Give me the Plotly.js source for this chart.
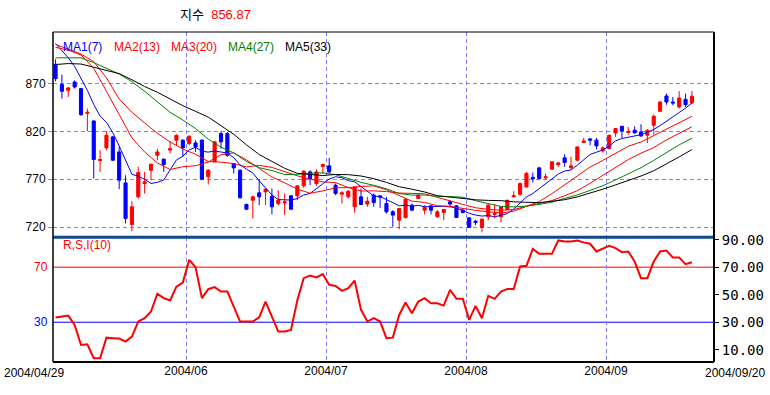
<!DOCTYPE html>
<html><head><meta charset="utf-8">
<script src="https://cdn.plot.ly/plotly-3.0.1.min.js"></script>
<style>html,body{margin:0;padding:0;background:#fff}#chart{width:770px;height:395px}</style>
</head><body><div id="chart"></div>
<script>
// ---- data ----
const openV = [890.2,869,863,871.7,864.8,839,831,789.6,802.8,814.3,
798.6,766.2,722.7,751.6,765.5,779.5,795.1,791,800.5,810.8,
810.8,807.3,808,810.8,772.5,788.2,817.8,817.8,786.4,779.5,
743.6,748.1,755.8,756.8,752.3,744.6,745.3,752.7,752.7,763.1,
777.7,765.5,783.3,784,763.8,754.4,751.6,741.2,751.6,744,
753.4,752.7,744.6,736,727.2,730,742.9,749.9,737.7,742.2,
730.7,735.3,746.4,742.2,737.7,729.7,726.2,719.6,730.7,733.2,
730.7,738.4,751.6,754.4,762,772,781.9,771.5,780.5,785.4,
792.4,782,789.9,808.4,812.2,810.8,799.7,802.1,818.5,825.4,
819,821.3,819.5,816,826.5,841.1,857.1,850.8,845.6,853.6,849.8];
const highV = [895.4,879.4,866.5,873.5,865.5,843.9,831.5,800.4,820.2,815.3,
803.8,774.2,747.1,783,777.7,786.4,802,791.7,810,816.7,
811.9,815.7,810.8,811.9,780.5,809.8,820.2,819.5,786.4,780.2,
744.6,752.3,770,760.3,760.3,758.6,755.1,753.4,763.8,779.5,
779.5,780.5,786.4,792.4,765.5,757.5,758.6,762,760.3,751.6,
755.1,752.7,751.6,737.7,740.1,749.9,744.6,754.1,742.9,742.9,
737.7,738.4,748.1,742.9,739.4,729.7,727.2,729,744.6,744,
741.2,748.1,757.5,766.6,777.7,777,783,776,788.9,788.2,
796.2,793.4,804.5,813.2,813.2,813.2,804.5,816.7,823.7,825.4,
824.7,825.4,827.5,822.3,837.6,851.5,859.6,856.1,862.3,859.6,862.3];
const lowV = [872.4,854.3,856,864.8,836.2,820.2,770.8,777.7,800.4,788.9,
759.6,723.8,715.8,749.9,755,769,790,777.7,797,805.6,
793.4,805.6,798.6,770,764.5,788.2,802,793.4,776,749.9,
737.7,729,742.9,742.9,733.2,742.9,732.5,737.7,748.1,761,
763.8,763.1,776,776,753.4,744.6,749.9,735,742.9,741.2,
741.2,740.1,734.2,720.3,717.8,729,737,749.9,733.2,733.2,
729.7,727.2,741.2,729.7,734.2,719.6,722,714.4,727.2,729,
724.8,738.4,751,752.7,761.3,766.5,769.7,769.7,780.2,783,
783,780.5,789.2,808,805.6,801.4,797.9,801.4,814.3,813.2,
816.7,817.8,814.3,808,816.7,840.4,848,847.4,843.9,845.6,849.1];
const closeV = [875.2,862,865.5,866.5,837.6,840,790.6,790.6,816,789.9,
769,729,741.2,777,767.3,785.7,798.6,785.4,802,816,
802.8,815,803.8,770,779.5,809.1,809.1,795.1,781.9,750.6,
738.7,751.6,751.6,759.6,741.2,748.1,746.4,738.7,763.1,778.4,
770.8,777.7,785.4,777.7,755.1,755.8,757.5,762,743.6,747.1,
745.7,751.3,736,732.5,739.4,749.2,737.7,753.4,740.5,737.7,
736,738.4,744,730,735.3,719.6,724.8,728.3,742.9,734.2,
741.2,748.1,752.7,765.5,776,770.5,770.8,772.5,788.2,787.1,
787.5,784,803.8,810.1,810.8,804.9,802.8,816,823,820.6,
820,818.5,815.3,821.3,835.9,850.8,850.8,849.8,855,848,856.87];

const ma1 = [912,905,897,888,876,863,848.2,836.1,829.5,818.7,
804.8,789.3,775.2,773.2,769.9,765.6,766.8,769.2,779.6,790.3,
794.0,800.8,803.4,799.3,798.4,799.5,798.5,797.4,792.6,785.0,
780.6,776.6,768.4,761.3,753.6,748.8,748.2,748.2,749.8,753.6,
755.2,760.5,765.8,770.3,772.6,771.6,768.6,767.3,762.4,757.0,
752.4,751.9,749.0,745.5,742.2,743.0,741.7,742.8,741.2,741.5,
742.0,741.8,741.1,740.0,737.4,734.4,732.6,731.5,732.1,730.7,
732.3,734.2,738.9,744.7,751.5,755.1,760.3,764.8,770.5,775.4,
778.6,779.7,784.8,790.5,795.9,798.3,800.6,804.6,810.2,812.6,
814.0,815.1,816.6,819.2,822.1,826.1,830.4,834.6,839.8,844.5,849.6];

const maDays = [0,2,4,6,8,10,12,14,16,18,20,22,24,26,28,30,32,34,36,38,40,42,44,46,48,50,
52,54,56,58,60,62,64,66,68,70,72,74,76,78,80,82,84,86,88,90,92,94,96,98,100];
const ma2 = [908,905,900,886,862,838,813.3,798.5,787.1,780.2,783.1,784.1,788.0,795.7,797.6,790.3,
781.4,772.4,766.3,759.7,755.4,757.8,761.1,761.2,762.5,763.1,758.9,753.0,747.1,745.8,742.3,741.7,
739.2,737.4,736.0,734.8,736.6,741.7,746.7,754.9,764.2,772.7,782.8,789.7,797.0,804.5,809.0,815.6,
822.4,829.2,835.8];
const ma3 = [911,906,901,893,876,854,840,829,818,809,801.6,796.2,788.5,787.9,786.4,782.9,
784.5,782.4,777.9,773.6,770.1,767.3,766.5,761.3,757.7,757.9,757.1,755.6,755.2,754.8,751.1,747.0,
743.7,740.2,738.5,737.6,738.3,741.8,744.4,747.7,752.8,758.0,765.8,774.0,782.4,790.6,797.3,803.1,
811.2,818.4,824.9];
const ma4 = [897,897,897,892,886,880,872,862,851,840,832,823,812,803.5,797.6,788.6,
782.1,779.1,775.0,775.2,776.3,776.7,774.8,770.9,766.7,763.7,760.0,755.1,753.4,753.5,752.1,751.9,
751.2,747.6,744.7,741.5,741.1,741.9,743.7,746.0,750.0,753.6,758.4,763.2,769.3,775.5,782.1,789.7,
798.0,806.0,812.9];
const ma5 = [890,891,890.5,887,884,880.5,874,867,861,854,847,841,835,826,817,806,
795.9,788.7,781.5,776.2,775.2,773.9,775.0,774.8,773.4,770.6,766.7,762.2,759.6,756.7,752.8,751.3,
750.5,748.5,747.9,747.6,746.4,746.2,745.5,747.0,748.6,751.6,755.3,759.6,764.1,768.6,773.4,778.9,
785.8,793.4,801.0];

const rsi = [33.4,34.1,34.8,28,13.5,14.0,3.8,3.8,18.8,18.4,
18.1,15.9,19.6,30.5,32.9,37.8,50.6,47.5,45.8,55.9,
58.8,75.3,70,47.5,54,55.5,52.3,52.3,40.9,30.5,
30.5,30.5,33.6,45,34.1,23.2,23.2,24.4,46.2,62,
63.9,62.5,64.9,57.2,56.4,52.8,54.7,60.3,39,30.5,
32.9,30.5,18.4,18.8,35.3,44.3,36.5,45,47.5,43.8,
43.8,42.1,53.5,47,47,31.7,41.9,32.9,49.2,47,
52.3,54.2,54.2,70.5,71,83.3,79.7,79.7,79.7,89.4,
88.7,88.7,89.4,88,87,81.4,83.3,85.5,83.8,80.9,
81.4,74.1,62,62,74.1,81.4,82.1,77,77,72.2,73.6];

const monthTickPos = [20.5, 42.5, 64.5, 86.5];
const monthTickText = ['2004/06', '2004/07', '2004/08', '2004/09'];
const firstDateLabel = '2004/04/29';
const lastDateLabel = '2004/09/20';
const priceTicks = [720, 770, 820, 870];
const rsiTicks = [10, 30, 50, 70, 90];
const rsiTickText = ['10.00', '30.00', '50.00', '70.00', '90.00'];
const rsiLevels = [70, 30];
const rsiLevelColors = ['#ff0000', '#0000ff'];
const maNames = ['MA1(7)', 'MA2(13)', 'MA3(20)', 'MA4(27)', 'MA5(33)'];
const maColors = ['#0000ff', '#ff0000', '#ff0000', '#008000', '#000000'];
const titleName = '지수';
const titleValue = '856.87';

// ---- layout helpers (plot area 53..714 x 32..362) ----
const px = x => (x - 53) / 661;
const py = y => (362 - y) / 330;
const days = closeV.map((_, i) => i);
const sep = py(237.3);

const traces = [
  {type: 'candlestick', x: days, open: openV, high: highV, low: lowV, close: closeV,
   xaxis: 'x', yaxis: 'y', hoverinfo: 'skip', whiskerwidth: 0,
   increasing: {line: {color: '#ff0000', width: 1}, fillcolor: '#ff0000'},
   decreasing: {line: {color: '#0000ff', width: 1}, fillcolor: '#0000ff'}},
  {type: 'scatter', mode: 'lines', x: days, y: ma1, line: {color: maColors[0], width: 1}, xaxis: 'x', yaxis: 'y', hoverinfo: 'skip'},
  {type: 'scatter', mode: 'lines', x: maDays, y: ma2, line: {color: maColors[1], width: 1}, xaxis: 'x', yaxis: 'y', hoverinfo: 'skip'},
  {type: 'scatter', mode: 'lines', x: maDays, y: ma3, line: {color: maColors[2], width: 1}, xaxis: 'x', yaxis: 'y', hoverinfo: 'skip'},
  {type: 'scatter', mode: 'lines', x: maDays, y: ma4, line: {color: maColors[3], width: 1}, xaxis: 'x', yaxis: 'y', hoverinfo: 'skip'},
  {type: 'scatter', mode: 'lines', x: maDays, y: ma5, line: {color: maColors[4], width: 1}, xaxis: 'x', yaxis: 'y', hoverinfo: 'skip'},
  {type: 'scatter', mode: 'lines', x: days, y: rsi, line: {color: '#ff0000', width: 2}, xaxis: 'x', yaxis: 'y2', hoverinfo: 'skip'}
];

const gridColor = '#8080ff';
const shapes = [];
rsiLevels.forEach((lv, k) => shapes.push({type: 'line', xref: 'paper', yref: 'y2', x0: 0, x1: 1, y0: lv, y1: lv,
  line: {color: rsiLevelColors[k], width: 1}, layer: 'below'}));
shapes.push({type: 'line', xref: 'paper', yref: 'paper', x0: 0, x1: 1, y0: sep, y1: sep, line: {color: '#0b4a8c', width: 3}});
shapes.push({type: 'line', xref: 'paper', yref: 'paper', x0: 0, x1: 1, y0: 1, y1: 1, line: {color: '#000', width: 1}});
shapes.push({type: 'line', xref: 'paper', yref: 'paper', x0: 0, x1: 0, y0: 0, y1: 1, line: {color: '#000', width: 1.5}});
shapes.push({type: 'line', xref: 'paper', yref: 'paper', x0: 1, x1: 1, y0: 0, y1: 1, line: {color: '#000', width: 2}});
shapes.push({type: 'line', xref: 'paper', yref: 'paper', x0: 0, x1: 1, y0: 0, y1: 0, line: {color: '#000', width: 2}});

const baseFont = 'Liberation Sans, Arial, sans-serif';
const annotations = [];
annotations.push({xref: 'paper', yref: 'paper', x: px(215), y: py(14), xanchor: 'center', yanchor: 'middle', showarrow: false,
  text: titleName + '  <span style="color:#ff0000">' + titleValue + '</span>',
  font: {family: 'Liberation Sans, Noto Sans CJK KR, sans-serif', size: 13, color: '#000'}});
const legendX = [63, 114, 171, 228, 285];
maNames.forEach((n, k) => annotations.push({xref: 'paper', yref: 'paper', x: px(legendX[k] - 2), y: py(46.5), xanchor: 'left', yanchor: 'middle',
  showarrow: false, text: n, font: {family: baseFont, size: 12, color: maColors[k]}}));
annotations.push({xref: 'paper', yref: 'paper', x: px(61), y: py(245), xanchor: 'left', yanchor: 'middle', showarrow: false,
  text: 'R,S,I(10)', font: {family: baseFont, size: 12, color: '#ff0000'}});
rsiLevels.forEach((lv, k) => annotations.push({xref: 'paper', yref: 'y2', x: px(50), y: lv, xanchor: 'right', yanchor: 'middle', showarrow: false,
  text: String(lv), font: {family: baseFont, size: 12, color: rsiLevelColors[k]}}));
annotations.push({xref: 'paper', yref: 'paper', x: px(34), y: py(373), xanchor: 'center', yanchor: 'middle', showarrow: false,
  text: firstDateLabel, font: {family: baseFont, size: 12, color: '#000'}});
annotations.push({xref: 'paper', yref: 'paper', x: px(735), y: py(373), xanchor: 'center', yanchor: 'middle', showarrow: false,
  text: lastDateLabel, font: {family: baseFont, size: 12, color: '#000'}});

const layout = {
  width: 770, height: 395,
  margin: {l: 53, r: 56, t: 32, b: 33, pad: 0},
  paper_bgcolor: '#fff', plot_bgcolor: '#fff',
  font: {family: baseFont, size: 12, color: '#000'},
  showlegend: false, dragmode: false, hovermode: false,
  xaxis: {range: [-0.4, 103.47], anchor: 'y2', tickvals: monthTickPos, ticktext: monthTickText,
    showgrid: true, gridcolor: gridColor, griddash: '4px,3px', gridwidth: 1, zeroline: false, showline: false,
    ticks: '', tickfont: {family: baseFont, size: 12, color: '#000'}, rangeslider: {visible: false}, fixedrange: true},
  yaxis: {domain: [sep, 1], range: [709.3, 924.0], anchor: 'x', tickvals: priceTicks,
    showgrid: true, gridcolor: gridColor, griddash: '4px,3px', gridwidth: 1, zeroline: false, showline: false,
    ticks: 'outside', ticklen: 4, tickcolor: gridColor, tickfont: {family: baseFont, size: 12, color: '#000'}, fixedrange: true},
  yaxis2: {domain: [0, sep], range: [1.1, 91.7], anchor: 'x', side: 'right', tickvals: rsiTicks, ticktext: rsiTickText,
    showgrid: false, zeroline: false, showline: false, ticks: 'outside', ticklen: 4, tickcolor: '#000',
    tickfont: {family: 'DejaVu Sans Mono, monospace', size: 14, color: '#000'}, fixedrange: true},
  shapes: shapes, annotations: annotations
};

Plotly.newPlot('chart', traces, layout, {staticPlot: true, displayModeBar: false});
</script></body></html>
